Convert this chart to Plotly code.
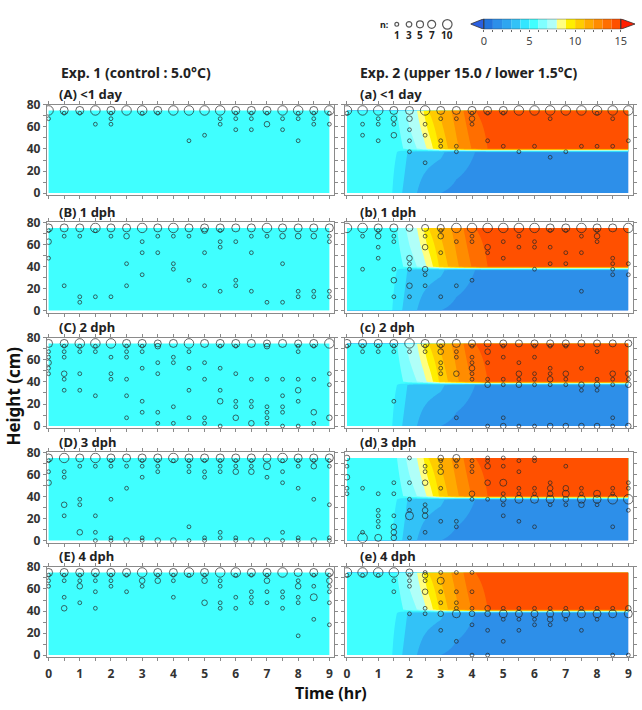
import numpy as np
import plotly.graph_objects as go

W, H = 642, 710

# ---------------- data ----------------
levels = list(range(16))  # 0..15 degC contour levels
under_color = '#2a5fe0'
over_color = '#ff1e00'
level_colors = ['#2274dd', '#2d8fe9', '#2fa6f0', '#33c2f7', '#33e6ff',
                '#40ffff', '#80ffff', '#b0fff8',
                '#ffff80', '#ffee00', '#ffcc00', '#ffaa00', '#ff8c00', '#ff6e00', '#ff5000']

legend_n = [1, 3, 5, 7, 10]
size_px = {1: 3.8, 3: 5.6, 5: 7.0, 7: 8.0, 10: 9.5}

control_temp = 5.0
water_top = 75.0

# Exp. 2 temperature (shared by all five panels)
prof_t =    [0.0, 1.3, 1.6, 2.0, 2.24, 2.45, 2.6, 3.0, 3.5, 4.1, 4.5, 5.0, 6.0, 9.0]
T_surface = [5.5, 5.5, 6.0, 7.4, 8.0, 9.0, 10.0, 11.2, 12.4, 14.0, 14.3, 14.5, 14.5, 14.5]
T_upper =   [5.5, 5.5, 5.5, 6.5, 7.0, 7.6, 8.2, 10.3, 11.8, 13.3, 14.0, 14.2, 14.4, 14.5]
T_lower =   [5.5, 5.5, 5.0, 3.8, 3.6, 3.5, 3.4, 3.2, 2.4, 2.0, 1.9, 1.8, 1.8, 1.8]
T_bottom =  [5.5, 5.5, 4.5, 3.3, 3.0, 2.6, 2.4, 2.0, 1.8, 1.7, 1.6, 1.6, 1.6, 1.6]
thermo_h = [38.5, 38.0, 38.5, 38.5, 39.5]

titles_left = ['(A) <1 day', '(B) 1 dph', '(C) 2 dph', '(D) 3 dph', '(E) 4 dph']
titles_right = ['(a) <1 day', '(b) 1 dph', '(c) 2 dph', '(d) 3 dph', '(e) 4 dph']
col_titles = ['Exp. 1 (control : 5.0\u00b0C)', 'Exp. 2 (upper 15.0 / lower 1.5\u00b0C)']

x_ticks = [i * 0.5 for i in range(19)]
y_ticks = [0, 10, 20, 30, 40, 50, 60, 70, 80]

# (time hr, height cm, n)
pts_A = [(0,75,10),(0,67.5,1),(0.5,75,7),(0.5,72.5,1),(1,75,7),(1,72.5,1),(1.5,75,10),(1.5,62.5,1),
         (2,75,7),(2,72.5,1),(2,67.5,1),(2,62.5,1),(2.5,75,10),(3,75,10),(3,72.5,1),(3.5,75,7),(3.5,72.5,1),
         (4,75,10),(4.5,75,10),(4.5,47.5,1),(5,75,10),(5,52.5,1),(5.5,75,10),(5.5,67.5,1),(5.5,62.5,1),
         (6,75,7),(6,72.5,1),(6,67.5,1),(6,57.5,1),(6.5,75,7),(6.5,72.5,1),(6.5,67.5,1),(6.5,57.5,1),
         (7,75,7),(7,72.5,1),(7,62.5,3),(7.5,75,10),(7.5,67.5,1),(7.5,57.5,1),(8,75,10),(8,72.5,1),
         (8,67.5,1),(8,47.5,1),(8.5,75,7),(8.5,72.5,1),(8.5,67.5,1),(8.5,62.5,1),(9,75,10),(9,72.5,1),(9,62.5,1)]
pts_B = [(0,75,7),(0,72.5,1),(0,62.5,3),(0,47.5,1),(0.5,75,7),(0.5,67.5,1),(0.5,22.5,1),
         (1,75,7),(1,67.5,1),(1,12.5,1),(1,7.5,1),(1.5,75,10),(1.5,72.5,1),(1.5,12.5,1),
         (2,75,7),(2,67.5,1),(2,12.5,1),(2.5,75,7),(2.5,67.5,3),(2.5,42.5,1),(2.5,22.5,1),
         (3,75,10),(3,62.5,1),(3,52.5,1),(3,32.5,1),(3.5,75,7),(3.5,67.5,1),(3.5,52.5,1),
         (4,75,10),(4,67.5,1),(4,42.5,1),(4,37.5,1),(4.5,75,7),(4.5,67.5,1),(4.5,27.5,1),
         (5,75,7),(5,72.5,3),(5,52.5,1),(5,22.5,1),(5.5,75,7),(5.5,72.5,1),(5.5,62.5,1),(5.5,57.5,1),(5.5,17.5,1),
         (6,75,7),(6,62.5,1),(6,27.5,1),(6,22.5,1),(6.5,75,7),(6.5,67.5,1),(6.5,52.5,1),(6.5,17.5,1),
         (7,75,10),(7,67.5,1),(7,7.5,1),(7.5,75,7),(7.5,67.5,3),(7.5,42.5,1),(7.5,7.5,1),
         (8,75,7),(8,67.5,3),(8,17.5,1),(8,12.5,1),(8.5,75,7),(8.5,67.5,3),(8.5,17.5,1),(8.5,12.5,1),
         (9,75,7),(9,67.5,1),(9,62.5,1),(9,17.5,1),(9,12.5,1)]
pts_C = [(0,75,7),(0,67.5,1),(0,62.5,1),(0,57.5,3),(0,52.5,1),(0,47.5,1),
         (0.5,75,7),(0.5,72.5,1),(0.5,67.5,1),(0.5,62.5,1),(0.5,47.5,3),(0.5,42.5,1),(0.5,32.5,1),
         (1,75,10),(1,72.5,1),(1,67.5,1),(1,47.5,1),(1,32.5,1),(1.5,75,10),(1.5,72.5,1),(1.5,67.5,1),(1.5,27.5,1),
         (2,75,10),(2,62.5,1),(2,47.5,1),(2,42.5,1),
         (2.5,75,7),(2.5,72.5,1),(2.5,67.5,1),(2.5,62.5,1),(2.5,42.5,1),(2.5,27.5,1),(2.5,7.5,1),
         (3,75,7),(3,72.5,1),(3,67.5,1),(3,52.5,1),(3,22.5,1),(3,12.5,1),
         (3.5,75,5),(3.5,72.5,3),(3.5,57.5,1),(3.5,47.5,1),(3.5,12.5,1),(3.5,2.5,1),
         (4,75,7),(4,62.5,1),(4,57.5,1),(4,17.5,1),(4,2.5,1),
         (4.5,75,10),(4.5,67.5,1),(4.5,52.5,1),(4.5,32.5,1),(4.5,7.5,1),
         (5,75,7),(5,57.5,1),(5,42.5,1),(5,7.5,1),(5,2.5,1),
         (5.5,75,7),(5.5,72.5,1),(5.5,52.5,1),(5.5,32.5,1),(5.5,22.5,3),(5.5,0,1),
         (6,75,7),(6,72.5,1),(6,47.5,1),(6,22.5,1),(6,17.5,1),(6,7.5,3),
         (6.5,75,7),(6.5,42.5,1),(6.5,22.5,1),(6.5,17.5,1),(6.5,2.5,3),
         (7,75,5),(7,72.5,3),(7,42.5,1),(7,17.5,1),(7,12.5,1),(7,7.5,1),(7,2.5,1),
         (7.5,75,7),(7.5,42.5,1),(7.5,27.5,1),(7.5,17.5,1),(7.5,12.5,1),(7.5,0,1),
         (8,75,5),(8,72.5,1),(8,67.5,1),(8,42.5,1),(8,32.5,3),(8,22.5,1),(8,0,1),
         (8.5,75,7),(8.5,72.5,1),(8.5,42.5,1),(8.5,12.5,3),(8.5,2.5,1),
         (9,75,10),(9,47.5,1),(9,37.5,1),(9,7.5,3)]
pts_D = [(0,75,7),(0,72.5,1),(0,62.5,1),(0,52.5,3),
         (0.5,75,10),(0.5,62.5,1),(0.5,57.5,1),(0.5,32.5,3),(0.5,22.5,1),
         (1,75,7),(1,67.5,1),(1,37.5,1),(1,32.5,1),(1,7.5,3),
         (1.5,75,10),(1.5,67.5,1),(1.5,22.5,1),(1.5,7.5,1),(1.5,0,1),
         (2,75,7),(2,72.5,1),(2,67.5,1),(2,37.5,1),(2,2.5,1),(2,0,1),
         (2.5,75,7),(2.5,67.5,1),(2.5,47.5,1),(2.5,0,3),
         (3,75,7),(3,72.5,1),(3,67.5,1),(3,57.5,1),(3,2.5,1),(3,0,1),
         (3.5,75,7),(3.5,72.5,1),(3.5,67.5,1),(3.5,62.5,1),(3.5,0,3),
         (4,75,10),(4,72.5,1),(4,0,3),
         (4.5,75,7),(4.5,72.5,1),(4.5,67.5,1),(4.5,62.5,1),(4.5,12.5,1),(4.5,0,1),
         (5,75,7),(5,72.5,1),(5,62.5,1),(5,57.5,1),(5,2.5,1),(5,0,1),
         (5.5,75,7),(5.5,72.5,1),(5.5,67.5,1),(5.5,62.5,1),(5.5,7.5,1),(5.5,2.5,1),
         (6,75,7),(6,72.5,1),(6,67.5,1),(6,62.5,3),(6,2.5,1),(6,0,1),
         (6.5,75,7),(6.5,72.5,1),(6.5,67.5,1),(6.5,62.5,3),(6.5,0,3),
         (7,75,7),(7,67.5,5),(7,57.5,1),(7,0,3),
         (7.5,75,10),(7.5,72.5,1),(7.5,62.5,1),(7.5,52.5,1),(7.5,7.5,1),(7.5,0,1),
         (8,75,7),(8,72.5,1),(8,67.5,1),(8,47.5,1),(8,2.5,1),(8,0,1),
         (8.5,75,7),(8.5,72.5,1),(8.5,67.5,3),(8.5,37.5,1),(8.5,0,3),
         (9,75,7),(9,72.5,1),(9,67.5,1),(9,32.5,1),(9,2.5,1),(9,0,1)]
pts_E = [(0,75,7),(0,72.5,1),(0,67.5,1),(0,62.5,1),
         (0.5,75,7),(0.5,72.5,1),(0.5,67.5,1),(0.5,52.5,1),(0.5,42.5,3),
         (1,75,7),(1,72.5,1),(1,67.5,1),(1,62.5,3),(1,47.5,1),
         (1.5,75,7),(1.5,72.5,1),(1.5,67.5,1),(1.5,57.5,1),(1.5,42.5,1),
         (2,75,7),(2,72.5,1),(2,67.5,1),(2,62.5,1),(2.5,75,7),(2.5,72.5,1),(2.5,57.5,1),
         (3,75,10),(3,67.5,3),(3,62.5,1),(3.5,75,7),(3.5,72.5,1),(3.5,67.5,3),
         (4,75,7),(4,72.5,1),(4,67.5,1),(4,52.5,1),(4.5,75,10),(4.5,72.5,1),
         (5,75,7),(5,72.5,1),(5,67.5,3),(5,47.5,3),
         (5.5,75,10),(5.5,67.5,1),(5.5,62.5,1),(5.5,47.5,1),(5.5,42.5,1),
         (6,75,10),(6,72.5,1),(6,52.5,1),(6,42.5,1),
         (6.5,75,7),(6.5,72.5,1),(6.5,57.5,1),(6.5,52.5,1),(6.5,47.5,1),
         (7,75,7),(7,72.5,1),(7,67.5,3),(7,57.5,1),(7,47.5,1),
         (7.5,75,10),(7.5,57.5,1),(7.5,52.5,1),(7.5,42.5,1),
         (8,75,7),(8,67.5,1),(8,62.5,3),(8,52.5,1),(8,47.5,1),(8,17.5,1),
         (8.5,75,7),(8.5,72.5,1),(8.5,62.5,1),(8.5,52.5,5),(8.5,32.5,1),
         (9,75,7),(9,72.5,1),(9,67.5,3),(9,62.5,1),(9,57.5,1),(9,47.5,1),(9,27.5,1)]
pts_a = [(0,75,10),(0,72.5,1),(0.5,75,10),(0.5,62.5,1),(0.5,52.5,1),
         (1,75,10),(1,67.5,1),(1,62.5,1),(1,47.5,1),(1.5,75,7),(1.5,67.5,3),(1.5,62.5,1),(1.5,52.5,3),
         (2,75,7),(2,67.5,3),(2,57.5,1),(2,47.5,1),(2,37.5,1),(2.5,75,10),(2.5,62.5,1),(2.5,52.5,1),(2.5,27.5,1),
         (3,75,7),(3,67.5,1),(3,47.5,1),(3,42.5,1),(3.5,75,7),(3.5,67.5,1),(3.5,42.5,1),(3.5,37.5,1),
         (4,75,7),(4,72.5,1),(4,67.5,3),(4,62.5,1),(4.5,75,7),(4.5,72.5,1),(4.5,47.5,1),
         (5,75,7),(5,72.5,1),(5,42.5,1),(5.5,75,10),(5.5,37.5,1),(6,75,10),(6,42.5,1),
         (6.5,75,10),(6.5,67.5,1),(6.5,32.5,1),(7,75,10),(7,37.5,1),(7.5,75,10),(7.5,42.5,1),
         (8,75,10),(8,72.5,1),(8,42.5,1),(8.5,75,10),(8.5,67.5,1),(8.5,42.5,1),(9,75,10),(9,47.5,1)]
pts_b = [(0,75,10),(0.5,75,10),(0.5,67.5,1),(0.5,37.5,1),
         (1,75,7),(1,72.5,1),(1,67.5,3),(1,57.5,1),(1,47.5,1),
         (1.5,75,7),(1.5,67.5,1),(1.5,62.5,1),(1.5,37.5,1),(1.5,27.5,3),(1.5,12.5,1),
         (2,75,5),(2,47.5,3),(2,42.5,1),(2,37.5,1),(2,22.5,3),(2,12.5,1),
         (2.5,75,5),(2.5,67.5,1),(2.5,57.5,3),(2.5,37.5,3),(2.5,32.5,1),(2.5,22.5,1),
         (3,75,5),(3,72.5,1),(3,67.5,3),(3,52.5,1),(3,12.5,1),(3.5,75,10),(3.5,62.5,1),(3.5,22.5,1),
         (4,75,10),(4,67.5,1),(4,62.5,1),(4,27.5,1),(4.5,75,10),(4.5,57.5,3),(4.5,52.5,1),
         (5,75,10),(5,62.5,1),(5,47.5,1),(5.5,75,10),(5.5,67.5,1),(5.5,57.5,1),
         (6,75,10),(6,62.5,1),(6,57.5,1),(6,37.5,1),(6.5,75,7),(6.5,72.5,1),(6.5,57.5,1),(6.5,42.5,1),
         (7,75,7),(7,72.5,1),(7,52.5,1),(7,42.5,1),(7.5,75,10),(7.5,67.5,1),(7.5,52.5,1),(7.5,17.5,1),
         (8,75,7),(8,72.5,1),(8,67.5,3),(8,62.5,1),
         (8.5,75,7),(8.5,47.5,1),(8.5,42.5,1),(8.5,37.5,1),(8.5,32.5,1),(9,75,10),(9,42.5,1),(9,32.5,1)]
pts_c = [(0,75,7),(0,72.5,1),(0.5,75,7),(0.5,72.5,1),(0.5,67.5,1),(1,75,7),(1,72.5,1),(1,67.5,1),
         (1.5,75,7),(1.5,72.5,1),(1.5,67.5,1),(1.5,22.5,1),(2,75,10),(2,67.5,1),(2.5,75,7),(2.5,72.5,1),(2.5,67.5,1),
         (3,75,7),(3,72.5,1),(3,67.5,3),(3,57.5,1),(3,52.5,1),(3,47.5,1),
         (3.5,75,7),(3.5,67.5,1),(3.5,62.5,1),(3.5,47.5,3),(3.5,7.5,1),
         (4,75,5),(4,72.5,1),(4,62.5,1),(4,57.5,1),(4,52.5,3),(4,47.5,1),(4,42.5,1),
         (4.5,75,5),(4.5,67.5,3),(4.5,57.5,1),(4.5,42.5,1),(4.5,37.5,3),(4.5,0,1),
         (5,75,5),(5,72.5,1),(5,62.5,1),(5,42.5,1),(5,37.5,1),(5,7.5,1),(5,0,3),
         (5.5,75,5),(5.5,57.5,1),(5.5,47.5,3),(5.5,42.5,1),(5.5,37.5,3),(5.5,0,1),
         (6,75,5),(6,72.5,1),(6,62.5,1),(6,47.5,1),(6,42.5,1),(6,37.5,1),(6,0,1),
         (6.5,75,5),(6.5,72.5,1),(6.5,52.5,1),(6.5,47.5,1),(6.5,42.5,3),(6.5,37.5,1),(6.5,0,3),
         (7,75,5),(7,72.5,1),(7,47.5,3),(7,42.5,1),(7,37.5,1),(7,0,3),
         (7.5,75,5),(7.5,52.5,1),(7.5,37.5,3),(7.5,32.5,1),(7.5,0,3),
         (8,75,5),(8,67.5,1),(8,42.5,1),(8,37.5,3),(8,32.5,1),(8,0,3),
         (8.5,75,5),(8.5,47.5,3),(8.5,42.5,1),(8.5,37.5,1),(8.5,7.5,1),(8.5,0,1),
         (9,75,5),(9,47.5,3),(9,42.5,1),(9,37.5,3),(9,0,3)]
pts_d = [(0,75,3),(0,67.5,1),(0,57.5,3),(0,47.5,1),(0,42.5,1),(0.5,47.5,1),(0.5,7.5,1),(0.5,2.5,10),
         (1,42.5,1),(1,27.5,1),(1,22.5,1),(1,17.5,1),(1,12.5,1),(1,2.5,5),
         (1.5,52.5,1),(1.5,42.5,1),(1.5,22.5,1),(1.5,12.5,3),(1.5,7.5,3),(1.5,2.5,3),
         (2,75,1),(2,52.5,1),(2,37.5,1),(2,27.5,1),(2,22.5,7),(2,2.5,1),
         (2.5,67.5,1),(2.5,62.5,1),(2.5,52.5,3),(2.5,32.5,1),(2.5,27.5,3),(2.5,22.5,3),(2.5,7.5,1),
         (3,75,3),(3,72.5,1),(3,67.5,1),(3,62.5,3),(3,47.5,1),(3,17.5,1),
         (3.5,75,5),(3.5,72.5,1),(3.5,67.5,1),(3.5,17.5,1),(3.5,12.5,1),
         (4,72.5,1),(4,67.5,1),(4,62.5,1),(4,42.5,3),(4,37.5,1),
         (4.5,75,1),(4.5,72.5,1),(4.5,67.5,3),(4.5,52.5,3),(4.5,37.5,1),
         (5,75,1),(5,67.5,1),(5,52.5,5),(5,42.5,1),(5,37.5,3),(5,32.5,1),(5,22.5,1),
         (5.5,72.5,1),(5.5,62.5,1),(5.5,47.5,1),(5.5,42.5,1),(5.5,37.5,7),(5.5,17.5,1),
         (6,75,1),(6,72.5,1),(6,47.5,1),(6,42.5,1),(6,37.5,7),(6,12.5,1),
         (6.5,52.5,1),(6.5,47.5,3),(6.5,42.5,3),(6.5,37.5,7),(6.5,32.5,1),
         (7,67.5,1),(7,47.5,3),(7,42.5,5),(7,37.5,3),(7,32.5,1),
         (7.5,47.5,1),(7.5,42.5,1),(7.5,37.5,7),(7.5,32.5,3),(8,42.5,5),(8,37.5,7),(8,32.5,1),
         (8.5,47.5,1),(8.5,42.5,1),(8.5,37.5,10),(8.5,12.5,1),(9,52.5,1),(9,47.5,1),(9,37.5,10),(9,27.5,1)]
pts_e = [(0,75,10),(0,72.5,1),(0.5,75,10),(0.5,72.5,1),(1,75,10),(1,72.5,1),
         (1.5,75,10),(1.5,67.5,1),(1.5,57.5,1),(2,75,5),(2,72.5,1),(2,67.5,1),(2,62.5,1),(2,37.5,1),
         (2.5,75,1),(2.5,72.5,3),(2.5,67.5,1),(2.5,57.5,3),(2.5,42.5,1),(2.5,37.5,1),
         (3,75,1),(3,67.5,5),(3,57.5,1),(3,47.5,1),(3,37.5,3),(3,22.5,1),
         (3.5,75,1),(3.5,57.5,1),(3.5,47.5,1),(3.5,42.5,1),(3.5,37.5,7),(3.5,12.5,1),
         (4,75,1),(4,57.5,1),(4,42.5,1),(4,37.5,3),(4,27.5,1),(4,0,1),
         (4.5,42.5,3),(4.5,37.5,3),(4.5,22.5,1),(4.5,0,1),(5,42.5,1),(5,37.5,7),(5,32.5,1),(5,12.5,1),
         (5.5,42.5,1),(5.5,37.5,5),(5.5,32.5,1),(5.5,22.5,1),(6,42.5,1),(6,37.5,5),(6,32.5,1),(6,27.5,1),
         (6.5,42.5,1),(6.5,37.5,5),(6.5,32.5,3),(6.5,27.5,1),(7,42.5,1),(7,37.5,7),(7,32.5,1),
         (7.5,42.5,1),(7.5,37.5,7),(7.5,22.5,1),(8,42.5,1),(8,37.5,7),(8,32.5,1),
         (8.5,42.5,1),(8.5,37.5,7),(8.5,0,1),(9,42.5,3),(9,37.5,7),(9,0,1)]

left_pts = [pts_A, pts_B, pts_C, pts_D, pts_E]
right_pts = [pts_a, pts_b, pts_c, pts_d, pts_e]

# ---------------- layout geometry (pixels) ----------------
FONT = 'Noto Sans'
TXT = '#333333'
row_top = [98, 218, 336, 453, 570]
panel_h = 92.3
col_x = [(45.0, 333.4), (344.3, 633.3)]
XR = [-0.055, 9.16]
YR = [-2.0, 80.0]


def px_x(p):
    return p / W


def px_y(p):
    return 1 - p / H


# discrete colour scale for contour fill: band k centred at k/16
all_cols = [under_color] + level_colors + [over_color]
nb = len(all_cols)
cscale = []
for k, c in enumerate(all_cols):
    lo = max(0.0, (k - 0.5) / (nb - 1))
    hi = min(1.0, (k + 0.5) / (nb - 1))
    cscale.append([lo, c])
    cscale.append([hi, c])

fig = go.Figure()
layout = {}

tf = np.arange(0, 9.0001, 0.05)
hf = np.arange(0, water_top + 0.001, 0.5)


def temp_field(th):
    Ts = np.interp(tf, prof_t, T_surface)
    Tu = np.interp(tf, prof_t, T_upper)
    Tl = np.interp(tf, prof_t, T_lower)
    Tb = np.interp(tf, prof_t, T_bottom)
    hu, hl = th + 1.8, th - 1.2
    Z = np.zeros((len(hf), len(tf)))
    for i, h in enumerate(hf):
        if h >= hu:
            Z[i] = Tu + (Ts - Tu) * (h - hu) / (water_top - hu)
        elif h <= hl:
            Z[i] = Tb + (Tl - Tb) * h / hl
        else:
            Z[i] = Tl + (Tu - Tl) * (h - hl) / (hu - hl)
    return Z


for r in range(5):
    for c in range(2):
        k = 2 * r + c + 1
        xs = '' if k == 1 else str(k)
        xa, ya = 'x' + xs, 'y' + xs
        x0, x1 = col_x[c]
        top = row_top[r]
        bot = top + panel_h
        bottom_row = (r == 4)
        layout['xaxis' + xs] = dict(
            domain=[px_x(x0), px_x(x1)], range=XR, anchor=ya,
            showline=True, linecolor='#8a8a8a', linewidth=1, mirror='ticks',
            ticks='outside', ticklen=3, tickcolor='#8a8a8a',
            tickvals=x_ticks, ticklabelstandoff=2,
            ticktext=[(str(int(v)) if (bottom_row and v == int(v)) else '') for v in x_ticks],
            tickfont=dict(family=FONT, size=12, color=TXT, weight='bold'),
            showgrid=False, zeroline=False, fixedrange=True)
        layout['yaxis' + xs] = dict(
            domain=[px_y(bot), px_y(top)], range=YR, anchor=xa,
            showline=True, linecolor='#8a8a8a', linewidth=1, mirror='ticks',
            ticks='outside', ticklen=3, tickcolor='#8a8a8a',
            tickvals=y_ticks,
            ticktext=[(str(v) if (c == 0 and v % 20 == 0) else '') for v in y_ticks],
            tickfont=dict(family=FONT, size=12, color=TXT, weight='bold'),
            showgrid=False, zeroline=False, fixedrange=True)

        if c == 0:
            fig.add_trace(go.Scatter(
                x=[0, 9, 9, 0, 0], y=[0, 0, water_top, water_top, 0],
                fill='toself', fillcolor=level_colors[int(control_temp)],
                line=dict(width=0), mode='lines', hoverinfo='skip',
                xaxis=xa, yaxis=ya, showlegend=False))
            pts = left_pts[r]
        else:
            Z = temp_field(thermo_h[r])
            fig.add_trace(go.Contour(
                x=tf, y=hf, z=Z, xaxis=xa, yaxis=ya,
                contours=dict(start=levels[0], end=levels[-1], size=1, coloring='fill'),
                line=dict(width=0), colorscale=cscale, showscale=False,
                hoverinfo='skip'))
            pts = right_pts[r]
        fig.add_trace(go.Scatter(
            x=[p[0] for p in pts], y=[p[1] for p in pts], mode='markers',
            marker=dict(symbol='circle-open', size=[size_px[p[2]] for p in pts],
                        color='#262626', line=dict(width=1, color='#262626')),
            xaxis=xa, yaxis=ya, showlegend=False, hoverinfo='skip'))

annotations = []
for r in range(5):
    for c, titles in enumerate([titles_left, titles_right]):
        annotations.append(dict(
            text=titles[r], xref='paper', yref='paper',
            x=px_x([55, 356.7][c]), y=px_y(row_top[r] - 11),
            xanchor='left', yanchor='middle', showarrow=False,
            font=dict(family=FONT, size=13, color='#222', weight='bold')))
for c in range(2):
    annotations.append(dict(
        text=col_titles[c], xref='paper', yref='paper',
        x=px_x([57, 356.7][c]), y=px_y(65), xanchor='left', yanchor='middle',
        showarrow=False, font=dict(family=FONT, size=14, color='#222', weight='bold')))
annotations.append(dict(text='Height (cm)', xref='paper', yref='paper', x=px_x(12), y=px_y(395),
                        textangle=-90, showarrow=False, xanchor='center', yanchor='middle',
                        font=dict(family=FONT, size=17, color='#111', weight='bold')))
annotations.append(dict(text='Time (hr)', xref='paper', yref='paper', x=px_x(330), y=px_y(699),
                        showarrow=False, xanchor='center', yanchor='middle', borderpad=0,
                        font=dict(family=FONT, size=16, color='#111', weight='bold')))

# ---------------- colour bar (custom, with triangular extensions) ----------------
cb_lo, cb_hi = -1.45, 16.56
layout['xaxis11'] = dict(domain=[px_x(470), px_x(635)], range=[cb_lo, cb_hi], anchor='y11',
                         showline=False, showgrid=False, zeroline=False, fixedrange=True,
                         ticks='outside', ticklen=2, tickcolor='#666', tickvals=levels,
                         ticktext=[(str(v) if v % 5 == 0 else '') for v in levels],
                         tickfont=dict(family=FONT, size=11, color='#444'))
layout['yaxis11'] = dict(domain=[px_y(20.7), px_y(10)], range=[0, 1], anchor='x11',
                         visible=False, fixedrange=True)
fig.add_trace(go.Bar(x=[v + 0.5 for v in levels[:-1]], y=[1] * (len(levels) - 1), width=1,
                     base=0, marker=dict(color=level_colors, line=dict(width=0)),
                     xaxis='x11', yaxis='y11', showlegend=False, hoverinfo='skip'))
fig.add_trace(go.Scatter(x=[levels[0], levels[0], cb_lo, levels[0]], y=[0, 1, 0.5, 0],
                         fill='toself', fillcolor=under_color, mode='lines',
                         line=dict(color='#333', width=0.8), xaxis='x11', yaxis='y11',
                         showlegend=False, hoverinfo='skip'))
fig.add_trace(go.Scatter(x=[levels[-1], levels[-1], cb_hi, levels[-1]], y=[0, 1, 0.5, 0],
                         fill='toself', fillcolor=over_color, mode='lines',
                         line=dict(color='#333', width=0.8), xaxis='x11', yaxis='y11',
                         showlegend=False, hoverinfo='skip'))
fig.add_trace(go.Scatter(x=[levels[0], levels[-1], levels[-1], levels[0], levels[0]],
                         y=[0, 0, 1, 1, 0], mode='lines', line=dict(color='#333', width=0.8),
                         xaxis='x11', yaxis='y11', showlegend=False, hoverinfo='skip'))

# ---------------- size legend ----------------
layout['xaxis12'] = dict(domain=[px_x(380), px_x(460)], range=[380, 460], anchor='y12',
                         visible=False, fixedrange=True)
layout['yaxis12'] = dict(domain=[px_y(35), px_y(0)], range=[35, 0], anchor='x12',
                         visible=False, fixedrange=True)
leg_x = [396, 408.3, 419.3, 431, 446.7]
fig.add_trace(go.Scatter(x=leg_x, y=[15.7] * len(legend_n), mode='markers',
                         marker=dict(symbol='circle-open', size=[size_px[n] for n in legend_n],
                                     color='#111', line=dict(width=1.2, color='#111')),
                         xaxis='x12', yaxis='y12', showlegend=False, hoverinfo='skip'))
annotations.append(dict(text='n:', xref='x12', yref='y12', x=384, y=15.5, showarrow=False,
                        xanchor='center', yanchor='middle',
                        font=dict(family=FONT, size=9, color='#222', weight='bold')))
for xv, n in zip(leg_x, legend_n):
    annotations.append(dict(text=str(n), xref='x12', yref='y12', x=xv, y=26.5, showarrow=False,
                            xanchor='center', yanchor='middle',
                            font=dict(family=FONT, size=10, color='#222', weight='bold')))

fig.update_layout(width=W, height=H, margin=dict(l=0, r=0, t=0, b=0),
                  paper_bgcolor='white', plot_bgcolor='white', showlegend=False,
                  annotations=annotations, **layout)
fig.write_html('out.html',
               post_script="document.body.style.margin='0';document.body.style.padding='0';"
                           "document.body.style.overflow='hidden';")
